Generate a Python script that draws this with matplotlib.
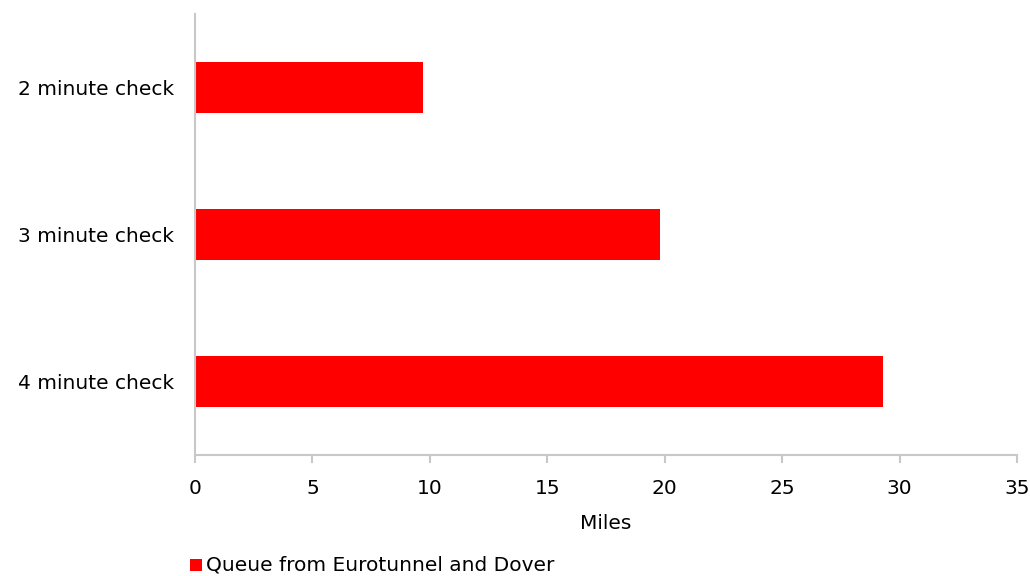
import matplotlib
matplotlib.use("Agg")
import matplotlib.pyplot as plt
from matplotlib.patches import Rectangle

categories = ["2 minute check", "3 minute check", "4 minute check"]
queue_miles = [9.7, 19.8, 29.3]
x_ticks = [0, 5, 10, 15, 20, 25, 30, 35]
series_name = "Queue from Eurotunnel and Dover"

FS = 14.5
plt.rcParams["font.family"] = ["DejaVu Sans"]
fig = plt.figure(figsize=(10.3, 5.76), dpi=100)
ax = fig.add_axes([0.1893, 0.2101, 0.7981, 0.7656])

ypos = list(range(len(categories)))
ax.barh(ypos, queue_miles, height=0.35, color="#FF0000", label=series_name)
ax.set_ylim(len(categories) - 0.5, -0.5)
ax.set_yticks(ypos)
ax.set_yticklabels(categories, fontsize=FS, color="#000000")
ax.tick_params(axis="y", length=0, pad=15)

ax.set_xlim(0, 35)
ax.set_xticks(x_ticks)
ax.set_xticklabels([str(t) for t in x_ticks], fontsize=FS)
ax.tick_params(axis="x", length=6, width=1.5, color="#C8C8C8", pad=11)

for side in ("top", "right"):
    ax.spines[side].set_visible(False)
for side in ("left", "bottom"):
    ax.spines[side].set_color("#C8C8C8")
    ax.spines[side].set_linewidth(1.5)

ax.set_xlabel("Miles", fontsize=FS, labelpad=12)

# legend entry drawn below the axis label
fig.patches.append(Rectangle((190 / 1030, 1 - 571 / 576), 12 / 1030, 12 / 576,
                             transform=fig.transFigure, facecolor="#FF0000",
                             edgecolor="none"))
fig.text(206 / 1030, 1 - 565 / 576, series_name, fontsize=FS,
         va="center", ha="left")

fig.savefig("out.png", dpi=100)
